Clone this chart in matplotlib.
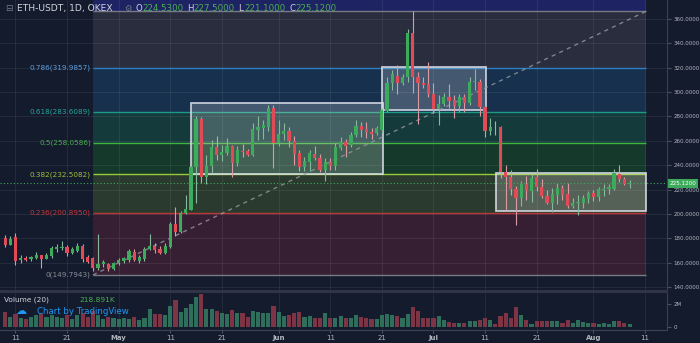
# ETH-USDT päiväkynttilät, Fibonacci-tasot ja volyymi

import numpy as np
import matplotlib.pyplot as plt
from matplotlib.patches import Rectangle
from matplotlib.transforms import blended_transform_factory

# Päivät laskettuna 11.4. alkaen (ensimmäinen kynttilä 9.4.)
paivat = list(range(-2, 120))

avaus = [180.5, 174.7, 181.3, 162.2, 164.0, 162.7, 163.5, 166.0, 163.2, 165.4,
         171.4, 171.8, 172.6, 168.2, 169.5, 173.4, 164.4, 164.0, 155.9, 158.9,
         159.1, 155.0, 159.7, 161.6, 162.2, 169.0, 161.6, 163.0, 171.0, 173.7,
         171.2, 167.7, 173.1, 191.5, 185.4, 200.5, 203.2, 238.3, 277.9, 230.1,
         239.3, 254.7, 248.1, 249.7, 255.7, 242.0, 251.8, 251.6, 248.4, 268.9,
         270.8, 271.6, 287.2, 258.0, 265.6, 268.0, 260.1, 249.7, 238.7, 243.0,
         249.2, 245.6, 236.0, 242.8, 239.3, 253.8, 259.3, 256.6, 264.8, 272.2,
         269.5, 267.0, 266.7, 268.9, 284.7, 307.7, 313.2, 307.7, 312.1, 348.3,
         312.1, 307.7, 306.6, 298.4, 285.9, 290.2, 295.7, 293.5, 288.6, 295.7,
         291.3, 308.5, 308.5, 288.0, 268.3, 271.6, 271.1, 234.6, 230.5, 220.2,
         212.8, 224.6, 218.8, 230.0, 222.3, 214.7, 209.2, 215.5, 221.5, 216.3,
         206.5, 209.0, 209.2, 212.0, 216.9, 213.6, 220.0, 220.2, 220.2, 232.8,
         228.6, 224.53]
ylin = [182.7, 181.9, 184.6, 166.3, 165.4, 165.4, 169.0, 166.5, 168.2, 173.7,
        175.3, 178.0, 174.5, 173.1, 176.4, 175.3, 166.3, 164.5, 183.5, 162.2,
        160.0, 160.8, 163.8, 164.4, 171.4, 170.9, 166.3, 173.1, 183.3, 176.4,
        173.7, 176.5, 193.6, 205.4, 202.5, 215.5, 240.0, 280.6, 279.3, 248.4,
        260.7, 264.2, 256.6, 262.0, 256.8, 255.5, 257.4, 253.5, 274.4, 280.4,
        277.1, 289.4, 289.4, 277.1, 274.4, 271.1, 264.0, 252.5, 247.0, 252.5,
        256.0, 248.9, 245.6, 245.6, 258.0, 263.2, 261.5, 267.5, 277.1, 275.5,
        275.5, 270.5, 272.5, 287.2, 312.6, 318.1, 322.2, 315.0, 351.5, 366.3,
        316.1, 312.6, 325.0, 307.7, 297.6, 299.0, 306.6, 297.6, 298.5, 298.5,
        312.6, 318.6, 310.5, 289.4, 278.5, 276.5, 272.2, 240.1, 236.0, 222.6,
        227.3, 231.3, 232.5, 236.5, 228.7, 219.6, 221.0, 225.2, 223.4, 225.2,
        213.0, 215.5, 215.5, 219.2, 220.0, 222.0, 224.6, 224.6, 236.6, 240.1,
        230.5, 227.5]
alin = [172.6, 174.2, 158.0, 159.5, 161.1, 161.5, 162.7, 155.9, 162.7, 163.8,
        169.0, 170.4, 165.4, 167.1, 168.5, 160.8, 160.0, 153.4, 154.0, 156.7,
        153.1, 154.2, 158.3, 160.0, 160.5, 161.0, 160.0, 161.5, 170.4, 167.5,
        167.3, 167.0, 172.0, 181.9, 184.0, 199.6, 203.0, 208.7, 225.1, 224.6,
        233.3, 244.3, 243.7, 248.0, 230.5, 239.5, 247.0, 247.2, 247.5, 260.7,
        261.2, 268.0, 237.9, 255.7, 260.7, 255.2, 240.1, 235.0, 235.5, 235.5,
        244.3, 234.5, 227.3, 236.0, 236.0, 252.5, 247.0, 255.2, 263.0, 262.9,
        262.0, 261.6, 264.5, 266.7, 283.6, 301.7, 298.2, 306.0, 308.5, 299.0,
        273.8, 303.0, 295.7, 282.5, 273.0, 288.6, 286.7, 278.5, 284.0, 284.0,
        289.5, 301.5, 280.4, 262.9, 265.0, 264.5, 229.2, 203.2, 215.5, 190.9,
        206.5, 211.5, 210.0, 218.8, 212.8, 208.0, 201.8, 208.0, 211.0, 204.5,
        204.8, 199.1, 204.5, 209.0, 210.3, 210.8, 214.7, 216.0, 219.6, 226.0,
        223.7, 221.1]
sulku = [174.5, 179.4, 161.6, 163.8, 162.2, 164.4, 166.3, 163.2, 166.0, 172.3,
         173.1, 172.6, 168.2, 171.4, 173.7, 163.2, 160.5, 155.9, 158.6, 160.3,
         154.5, 159.5, 162.2, 163.5, 169.8, 162.2, 164.4, 171.2, 173.7, 170.4,
         168.2, 173.7, 191.5, 184.9, 200.5, 204.0, 238.7, 277.9, 230.1, 239.3,
         255.2, 248.1, 250.6, 255.7, 242.0, 252.5, 250.6, 248.6, 269.5, 271.3,
         272.8, 287.2, 258.0, 265.6, 268.0, 260.1, 248.9, 238.7, 243.7, 249.7,
         245.6, 236.0, 242.8, 239.3, 254.7, 259.3, 255.7, 264.8, 272.2, 268.9,
         267.5, 265.5, 270.3, 285.3, 307.7, 314.8, 307.7, 312.1, 348.3, 312.1,
         307.7, 305.8, 298.4, 285.9, 290.2, 295.7, 293.0, 288.6, 295.7, 291.3,
         308.5, 309.5, 288.0, 268.3, 271.6, 271.0, 234.6, 230.5, 220.2, 212.8,
         224.6, 218.8, 229.2, 221.8, 214.7, 209.2, 216.3, 221.5, 215.5, 206.5,
         209.2, 209.8, 212.8, 216.9, 213.6, 220.2, 220.8, 222.0, 233.3, 228.4,
         224.6, 225.12]
# Volyymi miljoonina
volyymi = [1.3, 0.9, 1.1, 0.8, 0.7, 0.9, 1.0, 1.1, 0.9, 1.0,
           0.9, 0.8, 1.0, 0.7, 1.0, 1.2, 0.9, 1.4, 1.0, 0.7,
           0.9, 0.8, 0.7, 0.8, 0.7, 0.9, 0.6, 0.8, 1.6, 1.1,
           1.1, 1.0, 1.83, 2.35, 1.3, 1.65, 2.0, 2.6, 2.87, 1.6,
           1.6, 1.4, 1.2, 1.1, 1.5, 1.2, 1.2, 0.9, 1.4, 1.3,
           1.2, 1.2, 1.83, 1.3, 0.95, 1.0, 1.2, 1.3, 0.9, 0.95,
           0.8, 0.8, 1.2, 0.8, 0.8, 0.95, 0.8, 0.75, 1.0, 0.9,
           0.8, 0.67, 0.67, 1.0, 1.1, 1.0, 0.93, 0.8, 1.1, 1.77,
           1.4, 0.8, 0.8, 0.8, 0.93, 0.64, 0.43, 0.38, 0.38, 0.35,
           0.5, 0.5, 0.58, 0.81, 0.58, 0.23, 0.93, 1.25, 0.8, 1.77,
           1.0, 0.58, 0.29, 0.49, 0.49, 0.55, 0.55, 0.49, 0.38, 0.64,
           0.35, 0.64, 0.43, 0.35, 0.38, 0.23, 0.35, 0.23, 0.5, 0.5,
           0.38, 0.218891]

# Fibonacci-tasot
fib_suhteet = ["0", "0.236", "0.382", "0.5", "0.618", "0.786", "1", "1.618"]
fib_hinnat = [149.7943, 200.8950, 232.5082, 258.0586, 283.6089, 319.9857, 366.3228, 500.1]
fib_alku, fib_loppu = 15.0, 122.2

# Suorakulmiot: (alku, loppu, ala, yla)
laatikot = [(34.0, 71.2, 232.5, 290.8),
            (71.0, 91.2, 285.3, 320.3),
            (93.1, 122.2, 202.6, 233.3)]

hinta_tikit = list(range(140, 361, 20))
pvm_tikit = [0, 10, 20, 30, 40, 51, 61, 71, 81, 91, 101, 112, 122]
pvm_nimet = ["11", "21", "May", "11", "21", "Jun", "11", "21", "Jul", "11", "21", "Aug", "11"]
viimeisin = 225.12

tausta = "#131b2c"
teksti = "#b2b5be"
vihrea = "#3daa5c"
punainen = "#e04b55"

fig = plt.figure(figsize=(7, 3.43), dpi=100, facecolor=tausta)
ax = fig.add_axes([0, 0.1516, 0.9529, 0.8484], facecolor=tausta)
axv = fig.add_axes([0, 0.0379, 0.9529, 0.1108], facecolor=tausta, sharex=ax)

x = np.array(paivat)
o = np.array(avaus)
h = np.array(ylin)
l = np.array(alin)
c = np.array(sulku)
nousu = c >= o

# Fibonacci-vyöhykkeet ja -viivat
vyohyke_varit = ["#361f33", "#2b3a2e", "#15392a", "#153a3c", "#16304d", "#292d3d", "#1d2363"]
viiva_varit = ["#787b86", "#b83838", "#97c93d", "#3fb540", "#1d9a85", "#2f7ec0", "#787b86", "#2940c0"]
nimi_varit = ["#8c8f99", "#c7363a", "#9cbf3a", "#4caf50", "#26a69a", "#5d9fe0"]
for i in range(len(fib_hinnat) - 1):
    ax.fill_between([fib_alku, fib_loppu], fib_hinnat[i], fib_hinnat[i + 1],
                    color=vyohyke_varit[i], lw=0, zorder=0.3)
for i, p in enumerate(fib_hinnat):
    ax.hlines(p, fib_alku, fib_loppu, color=viiva_varit[i], lw=1, zorder=1)
for i in range(6):
    ax.text(fib_alku - 0.4, fib_hinnat[i], f"{fib_suhteet[i]}({fib_hinnat[i]:.4f})",
            ha="right", va="center", fontsize=5.2, color=nimi_varit[i], zorder=4)

# Ruudukko
for p in hinta_tikit:
    ax.axhline(p, color="white", alpha=0.07, lw=0.8, zorder=0.6)
for t in pvm_tikit:
    ax.axvline(t, color="white", alpha=0.07, lw=0.8, zorder=0.6)
    axv.axvline(t, color="white", alpha=0.07, lw=0.8, zorder=0.6)

# Trendiviiva
ax.plot([fib_alku, fib_loppu], [fib_hinnat[0], fib_hinnat[6]], color="#9598a1",
        alpha=0.8, lw=1, ls=(0, (3, 3)), zorder=1.8)

# Laatikot
for x0, x1, y0, y1 in laatikot:
    ax.add_patch(Rectangle((x0, y0), x1 - x0, y1 - y0, facecolor=(1, 1, 1, 0.2),
                           edgecolor=(0.86, 0.88, 0.92, 0.85), lw=1.3, zorder=1.5))

# Kynttilät
ax.vlines(x[nousu], l[nousu], h[nousu], color="#86b89c", lw=0.8, zorder=2)
ax.vlines(x[~nousu], l[~nousu], h[~nousu], color="#d99aa3", lw=0.8, zorder=2)
ax.bar(x, np.maximum(np.abs(c - o), 0.6), bottom=np.minimum(o, c), width=0.62,
       color=np.where(nousu, vihrea, punainen), lw=0, zorder=3)

# Viimeisin hinta
ax.axhline(viimeisin, color=vihrea, lw=0.8, ls=(0, (1, 2)), zorder=2.5)
trans = blended_transform_factory(ax.transAxes, ax.transData)
ax.text(1.004, viimeisin, f"{viimeisin:.4f}", transform=trans, ha="left", va="center",
        fontsize=4.1, color="white", clip_on=False, zorder=10,
        bbox=dict(boxstyle="square,pad=0.35", fc=vihrea, ec="none"))

ax.set_xlim(-3.0, 126.26)
ax.set_ylim(136.7, 375.6)
ax.yaxis.tick_right()
ax.set_yticks(hinta_tikit)
ax.set_yticklabels([f"{p:.4f}" for p in hinta_tikit])
ax.tick_params(axis="y", labelsize=4.0, colors=teksti, length=3, pad=1.5)
ax.tick_params(axis="y", color="#4a5060")
ax.tick_params(axis="x", length=0, labelbottom=False)
for s in ["top", "left"]:
    ax.spines[s].set_visible(False)
ax.spines["right"].set_color("#3a4052")
ax.spines["bottom"].set_color("#2f3546")
ax.spines["bottom"].set_linewidth(1.5)

# Volyymi
axv.bar(x, volyymi, width=0.8, color=np.where(nousu, "#2e6e5a", "#7d3545"), lw=0, zorder=2)
axv.set_ylim(-0.26, 3.04)
axv.yaxis.tick_right()
axv.set_yticks([0, 2])
axv.set_yticklabels(["0", "2M"])
axv.tick_params(axis="y", labelsize=4.0, colors=teksti, length=3, pad=1.5)
axv.tick_params(axis="y", color="#4a5060")
axv.set_xticks(pvm_tikit)
axv.set_xticklabels(pvm_nimet)
axv.tick_params(axis="x", labelsize=5, colors=teksti, length=2, pad=1.5)
axv.tick_params(axis="x", color="#4a5060")
for lbl in axv.get_xticklabels():
    if lbl.get_text() in ("May", "Jun", "Jul", "Aug"):
        lbl.set_fontweight("bold")
axv.spines["left"].set_visible(False)
axv.spines["top"].set_color("#2f3546")
axv.spines["top"].set_linewidth(1.5)
axv.spines["right"].set_color("#3a4052")
axv.spines["bottom"].set_color("#3c4354")

# Otsikkorivi
fig.text(5 / 700, 1 - 8.5 / 343, "⊟", fontsize=6.5, color="#787b86", va="center")
fig.text(17 / 700, 1 - 8.5 / 343, "ETH-USDT, 1D, OKEX", fontsize=6.6, color="#d1d4dc", va="center")
fig.text(124 / 700, 1 - 8.5 / 343, "⚙", fontsize=6, color="#787b86", va="center")
ohlc = [("O", avaus[-1]), ("H", ylin[-1]), ("L", alin[-1]), ("C", sulku[-1])]
for i, (kirjain, arvo) in enumerate(ohlc):
    x0 = 136 + i * 51
    fig.text(x0 / 700, 1 - 8.5 / 343, kirjain, fontsize=6.2, color="#d1d4dc", va="center")
    fig.text((x0 + 6.5) / 700, 1 - 8.5 / 343, f"{arvo:.4f}", fontsize=6.2, color="#4caf50", va="center")

fig.text(4 / 700, 1 - 300 / 343, "Volume (20)", fontsize=5.3, color="#d1d4dc", va="center")
fig.text(79 / 700, 1 - 300 / 343, f"{volyymi[-1] * 1000:.3f}K", fontsize=5.3, color="#4caf50", va="center")
fig.text(15 / 700, 1 - 311 / 343, "☁", fontsize=8, color="#2196f3", va="center")
fig.text(37 / 700, 1 - 311 / 343, "Chart by TradingView", fontsize=6.2, color="#2196f3", va="center")

fig.savefig("out.png", dpi=100, facecolor=tausta)
